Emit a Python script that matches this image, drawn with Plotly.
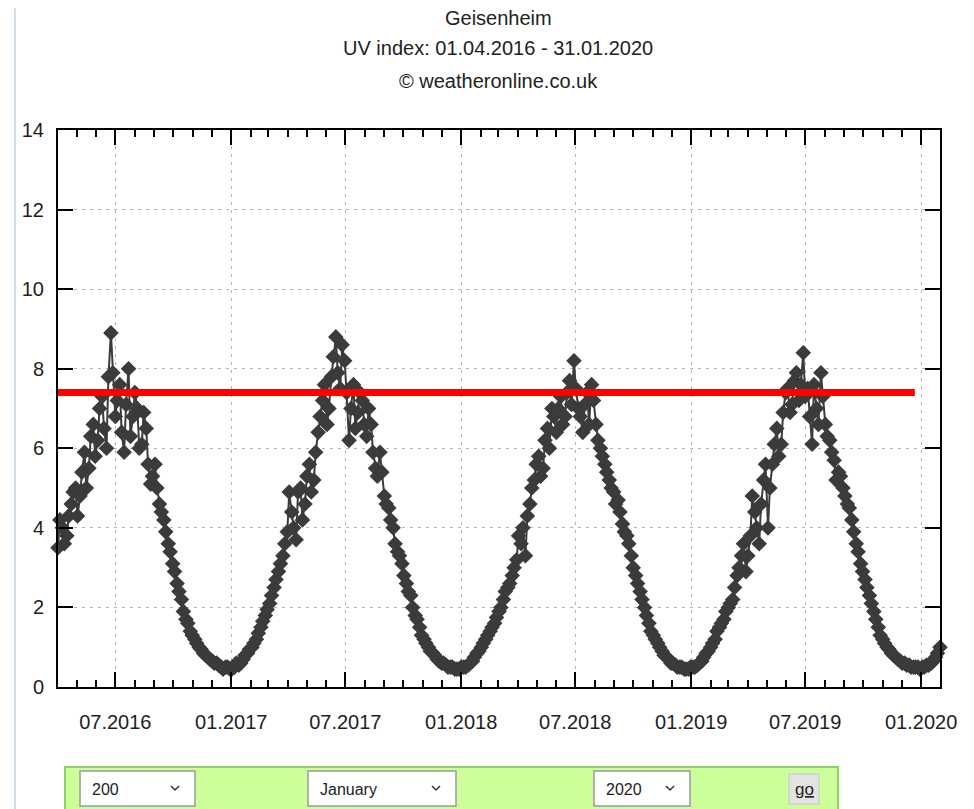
import pandas as pd
import plotly.graph_objects as go

# ---------------- data (readings every 7 days from 01.04.2016, plus mid-week readings 3 days later) ----------------
start_date = "2016-04-01"
midweek_offset_days = 3

uv_2016 = [3.5, 4.0, 3.8, 4.6, 5.0,
           4.8, 5.9, 5.5, 6.6,
           6.2, 7.3, 6.0, 8.9,
           6.8, 7.6, 5.9, 8.0, 6.8,
           7.0, 6.1, 6.5, 5.1,
           5.6, 4.6, 4.2, 3.6, 3.1,
           2.6, 2.2, 1.7, 1.4,
           1.2, 1.0, 0.85, 0.75,
           0.65, 0.6, 0.5, 0.5, 0.45,
           0.5, 0.55, 0.7, 0.85,
           1.0, 1.2, 1.5, 1.8,
           2.1, 2.5, 2.9, 3.3, 3.9]

uv_2017 = [4.4, 3.7, 5.0, 4.6,
           5.6, 5.2, 6.4, 7.2,
           6.6, 7.8, 8.8, 7.5, 8.2,
           6.2, 7.6, 6.9, 7.2,
           6.3, 6.6, 5.5, 5.9,
           4.8, 4.5, 4.0, 3.4, 3.1,
           2.6, 2.3, 1.8, 1.5,
           1.2, 1.0, 0.85, 0.7,
           0.6, 0.55, 0.5, 0.45, 0.45,
           0.5, 0.55, 0.65, 0.85,
           1.0, 1.2, 1.4, 1.6,
           1.9, 2.2, 2.5, 2.8, 3.2]

uv_2018 = [3.6, 3.3, 4.6, 5.2,
           5.8, 5.5, 6.5, 7.0,
           6.4, 7.3, 6.8, 7.7, 8.2,
           7.0, 6.4, 7.4, 7.6,
           6.6, 6.0, 5.6, 5.2, 4.9,
           4.7, 4.1, 3.8, 3.3,
           2.8, 2.4, 2.0, 1.6,
           1.3, 1.1, 0.9, 0.75, 0.6,
           0.55, 0.5, 0.45, 0.45,
           0.5, 0.55, 0.65, 0.85,
           1.0, 1.2, 1.5, 1.7,
           2.0, 2.2, 2.8, 3.3, 2.9]

uv_2019 = [3.8, 4.4, 3.6, 5.2,
           4.0, 5.6, 6.5, 6.1, 7.4,
           6.9, 7.7, 7.2, 8.4,
           7.5, 6.1, 7.0, 7.9,
           6.6, 6.2, 5.7, 5.4, 5.0,
           4.6, 4.2, 3.6, 3.1,
           2.7, 2.3, 1.9, 1.5,
           1.2, 1.0, 0.85, 0.75, 0.65,
           0.6, 0.55, 0.5, 0.5,
           0.5, 0.55, 0.6, 0.75, 1.0]

uv_mid_2016 = [4.2, 3.6, 4.3, 4.9,
               4.3, 5.4, 5.0, 6.3, 5.8,
               7.0, 6.5, 7.8, 7.9,
               7.2, 6.4, 7.1, 6.3,
               7.4, 6.0, 6.9, 5.6, 5.3,
               5.0, 4.4, 3.9, 3.4,
               2.9, 2.4, 1.9, 1.6, 1.3,
               1.1, 0.95, 0.8, 0.7,
               0.6, 0.55, 0.45, 0.5,
               0.45, 0.6, 0.6, 0.8, 0.95,
               1.1, 1.35, 1.65, 1.95,
               2.3, 2.7, 3.1, 3.6,
               4.9]

uv_mid_2017 = [4.0, 4.9, 4.2,
               5.3, 4.9, 5.9, 6.8, 7.6,
               7.0, 8.3, 7.9, 8.6,
               7.4, 7.0, 6.5, 7.4, 6.6,
               7.0, 5.9, 5.3, 5.4,
               4.6, 4.2, 3.6, 3.3,
               2.8, 2.4, 2.0, 1.7, 1.3,
               1.1, 0.9, 0.8, 0.65,
               0.6, 0.5, 0.5, 0.45,
               0.5, 0.5, 0.6, 0.75, 0.9,
               1.1, 1.3, 1.5, 1.75,
               2.0, 2.4, 2.6, 3.0,
               3.8]

uv_mid_2018 = [4.0, 4.3, 5.0, 5.6,
               5.3, 6.2, 6.0, 6.8,
               7.0, 6.6, 7.4, 7.1,
               7.5, 6.8, 7.1, 6.6, 7.2,
               6.2, 5.8, 5.4, 5.0,
               4.6, 4.4, 3.9, 3.6,
               3.0, 2.6, 2.2, 1.8, 1.4,
               1.2, 1.0, 0.8, 0.7,
               0.6, 0.5, 0.5, 0.45, 0.5,
               0.5, 0.6, 0.75, 0.9,
               1.1, 1.4, 1.6, 1.9,
               2.1, 2.5, 3.0, 3.6,
               3.3]

uv_mid_2019 = [4.8, 4.0, 4.6, 5.6,
               5.0, 6.1, 5.8, 6.9,
               7.5, 7.1, 7.9, 7.6,
               7.3, 6.8, 7.6, 6.6, 7.3,
               6.3, 5.9, 5.2, 5.3,
               4.8, 4.5, 3.9, 3.4, 2.9,
               2.5, 2.1, 1.7, 1.3,
               1.1, 0.95, 0.8, 0.7,
               0.6, 0.55, 0.5, 0.5, 0.45,
               0.5, 0.55, 0.65, 0.85]

uv_weekly = uv_2016 + uv_2017 + uv_2018 + uv_2019
uv_midweek = uv_mid_2016 + uv_mid_2017 + uv_mid_2018 + uv_mid_2019

weekly_dates = pd.date_range(start_date, periods=len(uv_weekly), freq="7D")
mid_dates = pd.date_range(pd.Timestamp(start_date) + pd.Timedelta(days=midweek_offset_days),
                          periods=len(uv_midweek), freq="7D")
series = pd.concat([
    pd.DataFrame({"date": weekly_dates, "uv": uv_weekly}),
    pd.DataFrame({"date": mid_dates, "uv": uv_midweek}),
]).sort_values("date")

threshold_value = 7.4
threshold_span = ["2016-04-01", "2019-12-22"]

x_range = ["2016-04-01", "2020-01-31"]
y_range = [0, 14]

title_lines = ["Geisenheim", "UV index: 01.04.2016 - 31.01.2020", "\u00a9 weatheronline.co.uk"]
form_labels = ["200", "January", "2020", "go"]

# ---------------- geometry (page pixels; the page body adds an 8px offset) ----------------
OFF = 8
L, R, T, B = 58, 940, 130, 687          # plot area in page pixels
W, H = 974 - OFF, 809 - OFF             # figure size


def px(x):
    return (x - L) / (R - L)


def py(y):
    return (B - y) / (B - T)


FONT = "Liberation Sans, Arial, sans-serif"
DARK = "#3b3b3b"

fig = go.Figure()

fig.add_trace(go.Scatter(
    x=series["date"], y=series["uv"], mode="lines+markers",
    line=dict(color=DARK, width=2),
    marker=dict(symbol="diamond", size=12, color=DARK),
    cliponaxis=False, showlegend=False, hoverinfo="x+y",
))

fig.add_trace(go.Scatter(
    x=threshold_span, y=[threshold_value, threshold_value], mode="lines",
    line=dict(color="#ff0000", width=7), showlegend=False, hoverinfo="skip",
))

shapes = []
annotations = []

# title lines
for txt, ypix in zip(title_lines, [18, 48, 81]):
    annotations.append(dict(
        text=txt, xref="paper", yref="paper", x=px(498), y=py(ypix),
        xanchor="center", yanchor="middle", showarrow=False,
        font=dict(family=FONT, size=20, color="#222222"),
    ))

# left page border line
shapes.append(dict(type="line", xref="paper", yref="paper",
                   x0=px(15), x1=px(15), y0=py(OFF), y1=py(809),
                   line=dict(color="#d4e0ea", width=2), layer="below"))

# green form bar
shapes.append(dict(type="rect", xref="paper", yref="paper",
                   x0=px(65), x1=px(838), y0=py(767), y1=py(812),
                   fillcolor="#ccff99", line=dict(color="#8fd060", width=2), layer="below"))

boxes = [(80, 195), (308, 456), (594, 690)]
for (bx0, bx1), lab in zip(boxes, form_labels[:3]):
    shapes.append(dict(type="rect", xref="paper", yref="paper",
                       x0=px(bx0), x1=px(bx1), y0=py(771), y1=py(806),
                       fillcolor="#ffffff", line=dict(color="#9a9a9a", width=1.5)))
    annotations.append(dict(text=lab, xref="paper", yref="paper",
                            x=px(bx0 + 10), y=py(789), xanchor="left", yanchor="middle",
                            showarrow=False, font=dict(family=FONT, size=16, color="#222222")))
    cx = bx1 - 20
    shapes.append(dict(type="path", xref="paper", yref="paper",
                       path=f"M {px(cx-4)},{py(786)} L {px(cx)},{py(790)} L {px(cx+4)},{py(786)}",
                       line=dict(color="#333333", width=1.5)))

# go button
shapes.append(dict(type="rect", xref="paper", yref="paper",
                   x0=px(789), x1=px(819), y0=py(774), y1=py(804),
                   fillcolor="#e3e3e3", line=dict(color="#c8c8c8", width=1)))
annotations.append(dict(text="<u>go</u>", xref="paper", yref="paper",
                        x=px(804), y=py(789), xanchor="center", yanchor="middle",
                        showarrow=False, font=dict(family=FONT, size=17, color="#222222")))

axis_common = dict(
    showline=True, linecolor="#000000", linewidth=2, mirror="ticks",
    ticks="inside", ticklen=15, tickwidth=2, tickcolor="#000000",
    showgrid=True, gridcolor="#b5b5b5", gridwidth=1.2, griddash="3px,5px",
    zeroline=False,
    tickfont=dict(family=FONT, size=20, color="#1e1e1e"),
)

fig.update_layout(
    width=W, height=H,
    margin=dict(l=L - OFF, r=974 - R, t=T - OFF, b=809 - B, autoexpand=False),
    paper_bgcolor="#ffffff", plot_bgcolor="#ffffff",
    showlegend=False,
    xaxis=dict(type="date", range=x_range, dtick="M6", tick0="2016-01-01",
               tickformat="%m.%Y", ticklabelstandoff=16,
               minor=dict(dtick="M1", ticks="inside", ticklen=7, tickwidth=1.5,
                          tickcolor="#000000", showgrid=False),
               **axis_common),
    yaxis=dict(range=y_range, dtick=2, tick0=0, ticklabelstandoff=8, **axis_common),
    shapes=shapes,
    annotations=annotations,
)

fig.write_html("out.html")
